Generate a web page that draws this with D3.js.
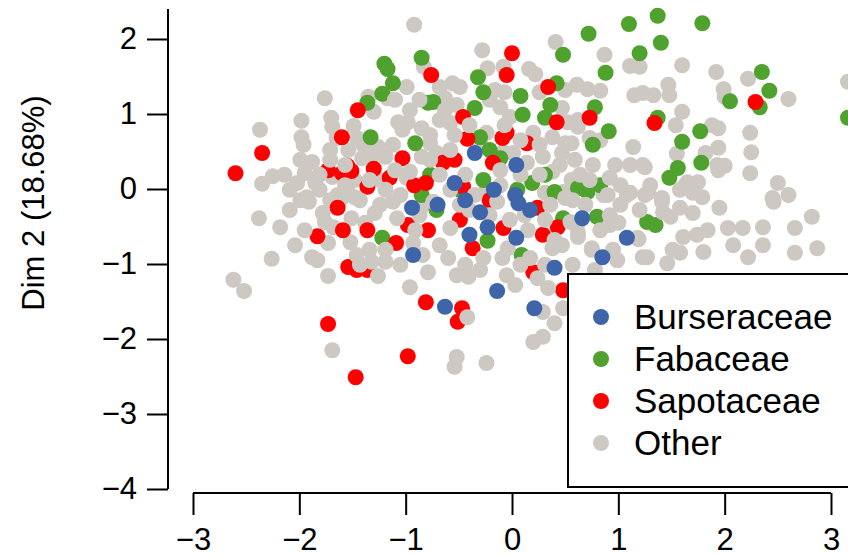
<!DOCTYPE html>
<html>
<head>
<meta charset="utf-8">
<script src="https://cdn.jsdelivr.net/npm/d3@7"></script>
<style>
	body { margin: 0; background: #fff; }
	svg { display: block; font-family: "Liberation Sans", Arial, sans-serif; }
</style>
</head>
<body>
<svg id="chart"></svg>
<script>
// family groups, each point is [Dim 1, Dim 2]
const families = ["Burseraceae", "Fabaceae", "Sapotaceae", "Other"];
const familyColors = ["#3e64a9", "#4ea22d", "#ff0000", "#cdc9c2"];

const burseraceae = [
	[-0.35,0.48],[0.04,0.32],[-0.54,0.08],[0.03,-0.08],[-0.94,-0.25],[-0.93,-0.88],[-0.30,-0.31],[0.06,-0.19],
	[-0.23,-0.51],[0.04,-0.65],[-0.40,-0.61],[0.66,-0.39],[1.08,-0.65],[0.85,-0.91],[0.40,-1.05],[-0.14,-1.36],
	[-0.63,-1.57],[0.21,-1.59],[-0.70,-0.21],[-0.44,-0.15],[0.17,-0.28],[-0.17,-0.01]
];

const fabaceae = [
	[-0.85,1.75],[-1.20,1.67],[-1.17,1.60],[-1.12,1.41],[-1.22,1.27],[-1.36,1.15],[-0.79,1.15],[-1.33,0.69],
	[-0.91,0.61],[-0.85,-0.08],[1.10,2.20],[0.72,2.07],[0.48,1.79],[1.20,1.81],[-0.32,1.49],[0.88,1.55],
	[-0.27,1.29],[0.42,1.41],[0.08,1.24],[-0.74,1.16],[-0.35,1.08],[0.36,1.12],[0.78,1.09],[0.10,0.99],
	[0.31,0.95],[0.91,0.77],[-0.30,0.69],[0.76,0.59],[-0.21,0.52],[-0.27,0.12],[0.05,-0.01],[0.19,0.08],
	[0.40,-0.04],[0.71,-0.04],[0.83,0.05],[1.37,2.31],[1.79,2.21],[1.40,1.95],[2.35,1.56],[2.05,1.17],
	[2.33,1.09],[2.42,1.31],[3.16,0.95],[1.37,0.95],[1.77,0.77],[1.60,0.63],[1.78,0.35],[1.56,0.28],
	[1.48,0.15],[-1.22,-0.65],[-0.71,-0.28],[-0.23,-0.69],[0.09,-0.88],[0.48,-0.39],[0.80,-0.37],[1.27,-0.44],
	[1.35,-0.48],[0.62,0.01],[-0.49,-0.01],[-0.11,0.41],[0.31,0.19],[-0.77,0.19]
];

const sapotaceae = [
	[-0.76,1.52],[-1.45,1.05],[-1.60,0.69],[-2.35,0.48],[-1.03,0.41],[-2.60,0.21],[-1.73,0.25],[-1.55,0.31],
	[-1.51,0.24],[-1.60,0.21],[-1.30,0.27],[-1.15,0.15],[-1.36,0.03],[-0.92,0.05],[-0.81,0.08],[0.00,1.81],
	[-0.05,1.52],[0.34,1.36],[-0.46,0.96],[0.42,0.89],[0.73,0.95],[-0.05,0.75],[-0.09,0.68],[-0.42,0.67],
	[0.14,0.61],[-0.18,0.35],[-0.65,0.35],[-0.46,0.03],[2.29,1.16],[1.34,0.88],[-1.64,-0.25],[-1.59,-0.55],
	[-1.36,-0.55],[-1.83,-0.63],[-1.09,-0.72],[-0.98,-0.48],[-0.79,-0.55],[-1.54,-1.04],[-1.46,-1.08],[-1.36,-1.08],
	[-0.81,-1.51],[-1.73,-1.80],[-0.98,-2.23],[-1.47,-2.51],[-0.08,-0.52],[-0.37,-0.79],[-0.49,-0.41],[0.29,-0.61],
	[0.24,-0.25],[0.43,-0.51],[0.20,-1.11],[0.48,-1.35],[-0.47,-1.59],[-0.51,-1.77],[-0.54,0.39],[-0.21,-0.15]
];

const other = [
	[-0.92,2.19],[-0.83,1.63],[-0.99,1.36],[-1.17,1.21],[-1.35,1.23],[-1.30,1.03],[-1.76,1.21],[-1.98,0.91],
	[-1.70,0.95],[-1.69,0.83],[-1.49,0.84],[-1.07,0.89],[-0.98,0.89],[-1.03,0.79],[-0.85,0.81],[-2.37,0.79],
	[-1.65,0.68],[-1.98,0.69],[-1.96,0.59],[-1.46,0.68],[-1.71,0.52],[-1.54,0.52],[-1.40,0.59],[-1.26,0.56],
	[-1.12,0.59],[-1.88,0.36],[-1.41,0.41],[-1.32,0.43],[-1.19,0.43],[-0.85,0.43],[-2.25,0.17],[-2.35,0.07],
	[-2.02,0.08],[-1.95,0.21],[-1.69,0.16],[-1.85,0.08],[-1.48,0.12],[-1.24,0.12],[-0.99,0.15],[-1.54,-0.05],
	[-1.93,-0.11],[-1.64,-0.08],
	[0.41,1.96],[0.87,1.79],[-0.28,1.85],[-0.23,1.61],[-0.08,1.63],[0.16,1.60],[0.22,1.53],[1.11,1.64],
	[1.20,1.63],[-0.68,1.36],[-0.56,1.41],[-0.49,1.36],[-0.16,1.32],[-0.07,1.29],[0.26,1.29],[0.50,1.32],
	[0.61,1.39],[0.71,1.33],[0.83,1.31],[1.15,1.25],[1.23,1.28],[-0.63,1.21],[-0.52,1.12],[-0.11,1.09],
	[-0.21,1.19],[0.47,1.08],[-0.02,0.96],[-0.68,0.92],[-0.58,0.88],[0.52,0.89],[0.62,0.92],[0.62,0.83],
	[0.20,0.75],[0.38,0.69],[-0.24,0.75],[-0.30,0.63],[0.50,0.61],[0.56,0.61],[0.73,0.68],[0.83,0.65],
	[1.14,0.56],[-0.08,0.49],[0.01,0.48],[0.14,0.35],[0.29,0.43],[0.47,0.48],[0.76,0.32],[0.97,0.32],
	[1.11,0.32],[1.23,0.32],[0.38,0.23],[-0.71,0.48],[-0.11,0.05],[-0.24,-0.01],[0.31,-0.05],[0.48,-0.04],
	[0.56,0.12],[0.86,-0.08],[1.11,-0.05],[-0.77,0.61],
	[1.60,1.65],[1.92,1.56],[2.22,1.47],[3.16,1.43],[1.47,1.39],[1.48,1.25],[1.33,1.25],[1.99,1.33],
	[2.00,1.23],[2.60,1.20],[1.60,1.03],[1.54,0.85],[1.88,0.85],[1.94,0.81],[2.24,0.75],[1.94,0.55],
	[1.82,0.48],[2.25,0.49],[1.55,0.47],[1.93,0.32],[2.00,0.31],[2.24,0.21],[1.63,0.05],[1.75,0.09],
	[2.50,0.08],[2.60,-0.08],[2.45,-0.12],[1.28,-0.05],[1.41,-0.12],[1.79,-0.11],[1.25,0.29],
	[-1.91,-0.17],[-1.71,-0.15],[-1.60,-0.12],[-1.48,-0.11],[-2.38,-0.39],[-2.18,-0.51],[-1.78,-0.32],[-1.76,-0.44],
	[-1.68,-0.51],[-1.51,-0.39],[-1.38,-0.45],[-1.29,-0.32],[-1.12,-0.17],[-0.85,-0.24],[-1.73,-0.72],[-1.52,-0.71],
	[-0.93,-0.72],[-0.91,-0.55],[-1.08,-0.39],[-2.26,-0.93],[-1.88,-0.91],[-1.83,-0.95],[-1.46,-0.88],[-1.34,-0.81],
	[-1.32,-0.97],[-0.84,-0.88],[-1.43,-1.01],[-1.26,-1.16],[-1.73,-1.16],[-2.62,-1.21],[-2.52,-1.36],[-0.96,-1.31],
	[-0.79,-1.11],[-1.69,-2.15],
	[-0.58,-0.52],[-0.68,-0.75],[-0.60,-0.92],[-0.52,-1.15],[-0.41,-1.17],[-0.27,-0.92],[-0.09,-0.92],[-0.05,-1.15],
	[0.03,-1.28],[0.17,-0.92],[0.24,-1.19],[0.34,-1.32],[0.47,-0.75],[0.57,-1.01],[0.62,-0.64],[0.75,-0.79],
	[0.94,-0.85],[0.99,-0.95],[1.18,-0.65],[1.23,-0.91],[-0.74,-0.17],[-0.49,-0.21],[-0.14,-0.17],[0.36,-0.21],
	[0.50,-0.12],[0.92,-0.48],[0.15,-0.55],[0.38,-0.79],[0.61,-0.51],[-0.04,-0.79],[-0.42,-1.71],[0.29,-1.64],
	[0.40,-1.79],[0.20,-2.04],[0.29,-1.97],[-0.52,-2.24],[-0.54,-2.37],[-0.24,-2.32],[0.48,-1.59],
	[1.94,0.25],[2.46,-0.17],[2.82,-0.37],[2.66,-0.52],[2.87,-0.79],[2.66,-0.85],[2.36,-0.75],[2.36,-0.51],
	[2.17,-0.52],[2.03,-0.52],[2.22,-0.91],[1.95,-0.25],[2.08,-0.75],[1.80,-0.84],[1.84,-0.55],[1.74,-0.61],
	[1.61,-0.64],[1.70,-0.32],[1.58,-0.25],[1.49,-0.37],[1.42,-0.31],[1.41,-0.17],[1.65,0.09],[1.58,-0.01],
	[1.70,-0.05],[1.27,-0.91],[1.51,-0.81],[1.58,-0.85],[1.46,-0.99],[1.19,-0.67],[0.90,-0.08],[1.08,-0.08],
	[1.25,-0.08],[0.92,-0.35],[1.00,-0.45],[0.62,-0.59],[0.57,-0.15],[0.55,-0.44],[0.75,-0.81],[0.95,-0.81],
	[-2.09,-0.01],[-1.99,-0.15],[-1.81,-0.01],[-1.43,-0.15],[-1.24,-0.21],[-1.05,-0.08],[-0.87,-0.35],[-1.81,0.19],
	[-1.34,0.12],[-1.19,-0.01],[-1.57,0.05],[-1.10,0.25],[-0.96,0.23],[-0.77,0.39],[-0.68,0.19],[-0.58,-0.01],
	[-0.44,0.19],[-0.35,-0.08],[-0.11,0.25],[0.08,0.19],[0.26,0.19],[0.45,0.32],[0.59,0.39],[0.64,0.19],
	[0.73,0.12],[0.92,0.15],[1.02,0.05],[1.30,0.05],[-0.40,-0.28],[-0.21,-0.35],[-0.02,-0.41],[0.12,-0.35],
	[0.31,-0.41],[0.40,-0.68],[-0.44,-1.01],[-0.30,-1.08],[0.08,-1.01],[0.31,-1.01],[0.78,-1.08],[0.83,-0.55],
	[1.02,-0.21],[1.20,-0.28],[0.69,-0.21],[-0.58,0.52],[-0.54,0.72],[0.08,0.65],[0.26,0.59],[-0.07,0.85],
	[-0.40,0.85],[-0.96,1.05],[-0.87,1.19],[-1.10,1.19],[-0.63,1.05],[-0.77,0.72],[-1.99,0.39],[-2.14,0.19],
	[-2.09,-0.28],[-1.71,0.39],[-1.57,0.32],[-1.95,-0.55],[-2.04,-0.75],[-1.19,-0.81],[-1.05,-1.01],[-1.19,-0.97]
];

const xTicks = [-3, -2, -1, 0, 1, 2, 3];
const yTicks = [-4, -3, -2, -1, 0, 1, 2];
const yTitle = "Dim 2 (18.68%)";

const viewWidth = 848;
const viewHeight = 557;

const svg = d3.select("#chart")
	.attr("width", viewWidth)
	.attr("height", viewHeight);

const x = d3.scaleLinear().domain([-3, 3]).range([193, 831]);
const y = d3.scaleLinear().domain([-4, 2]).range([489, 39]);

// drawing order mixes grey in between the families, like the original plot
const layers = [
	{ pts: other.slice(0, 150), color: familyColors[3] },
	{ pts: fabaceae, color: familyColors[1] },
	{ pts: sapotaceae, color: familyColors[2] },
	{ pts: other.slice(150), color: familyColors[3] },
	{ pts: burseraceae, color: familyColors[0] }
];

layers.forEach(function (layer) {
	svg.append("g")
		.selectAll("circle")
		.data(layer.pts)
		.join("circle")
		.attr("cx", d => x(d[0]))
		.attr("cy", d => y(d[1]))
		.attr("r", 8)
		.attr("fill", layer.color);
});

// y axis (R style: line spans ticks, top runs off the picture)
const yAxis = svg.append("g")
	.attr("transform", "translate(168,0)")
	.call(d3.axisLeft(y).tickValues(yTicks).tickSize(21).tickPadding(10).tickFormat(d3.format("d")));
yAxis.select(".domain").attr("d", "M0," + y(-4) + "V" + y(2.4));

const xAxis = svg.append("g")
	.attr("transform", "translate(0,493)")
	.call(d3.axisBottom(x).tickValues(xTicks).tickSize(22).tickPadding(13).tickFormat(d3.format("d")));
xAxis.select(".domain").attr("d", "M" + x(-3) + ",0H" + x(3));

svg.selectAll(".domain, .tick line")
	.attr("stroke", "#000")
	.attr("stroke-width", 2);
svg.selectAll(".tick text")
	.attr("fill", "#000")
	.style("font-size", "31px")
	.style("font-family", "'Liberation Sans', Arial, sans-serif");

svg.append("text")
	.attr("transform", "translate(44,203) rotate(-90)")
	.attr("text-anchor", "middle")
	.style("font-size", "31px")
	.text(yTitle);

// legend box
const legend = svg.append("g");
legend.append("rect")
	.attr("x", 568)
	.attr("y", 274)
	.attr("width", 300)
	.attr("height", 213)
	.attr("fill", "#fff")
	.attr("stroke", "#000")
	.attr("stroke-width", 2);

const legendRow = d3.scalePoint().domain(families).range([317, 443]);

legend.selectAll("circle")
	.data(families)
	.join("circle")
	.attr("cx", 601)
	.attr("cy", d => legendRow(d))
	.attr("r", 8)
	.attr("fill", (d, i) => familyColors[i]);

legend.selectAll("text")
	.data(families)
	.join("text")
	.attr("x", 634)
	.attr("y", d => legendRow(d))
	.attr("dy", "0.35em")
	.style("font-size", "35px")
	.text(d => d);
</script>
</body>
</html>
